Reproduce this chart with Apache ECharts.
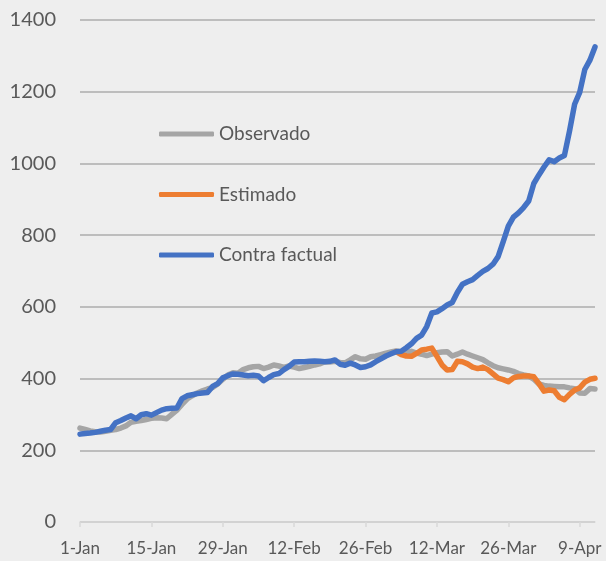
<!DOCTYPE html>
<html>
<head>
<meta charset="utf-8">
<script src="https://cdn.jsdelivr.net/npm/echarts@6/dist/echarts.min.js"></script>
<style>
  html, body { margin: 0; padding: 0; background: #EEEEEE; }
  #chart { width: 606px; height: 561px; }
</style>
</head>
<body>
<div id="chart"></div>
<script>
// daily values, 1-Jan .. 12-Apr
var observado = [
  262, 258, 254, 252, 251, 253, 256, 258, 262, 268,
  278, 281, 283, 286, 289, 291, 290, 288, 300, 312,
  328, 343, 352, 360, 366, 371, 375, 385, 398, 410,
  416, 415, 425, 430, 433, 434, 428, 432, 438, 435,
  431, 435, 432, 428, 431, 434, 438, 441, 447, 446,
  448, 445, 444, 452, 461, 455, 454, 461, 463, 467,
  471, 474, 477, 474, 472, 476, 471, 468, 464, 468,
  472, 474, 475, 463, 468, 474, 468, 463, 458, 453,
  444, 436, 430, 427, 424, 420, 414, 410, 407, 398,
  385, 381, 379, 378, 377, 377, 374, 372, 360, 359,
  372, 371
];

var estimado = [
  null, null, null, null, null, null, null, null, null, null,
  null, null, null, null, null, null, null, null, null, null,
  null, null, null, null, null, null, null, null, null, null,
  null, null, null, null, null, null, null, null, null, null,
  null, null, null, null, null, null, null, null, null, null,
  null, null, null, null, null, null, null, null, null, null,
  null, null, 475, 467, 463, 462, 470, 480, 482, 485,
  462, 438, 424, 425, 448, 447, 441, 432, 428, 432,
  425, 413, 401, 397, 391, 402, 406, 407, 407, 405,
  386, 365, 368, 366, 348, 341, 356, 368, 374, 390,
  398, 401
];

var contraFactual = [
  245, 247, 248, 250, 253, 256, 258, 277, 283, 290,
  296, 288, 299, 302, 298, 305, 312, 316, 317, 318,
  344, 352, 355, 358, 360, 361, 378, 386, 402, 408,
  413, 412, 410, 408, 409, 407, 394, 403, 411, 414,
  425, 434, 446, 447, 447, 448, 449, 448, 447, 448,
  452, 440, 437, 443, 438, 431, 433, 438, 447, 455,
  463, 469, 475, 476, 486, 497, 512, 521, 545, 583,
  586, 595, 605, 612, 640, 663, 670, 676, 688, 699,
  707, 719, 740, 782, 825, 850, 862, 877, 895, 944,
  968, 990, 1010, 1005, 1015, 1022, 1090, 1165, 1198, 1262,
  1288, 1325
];

var seriesNames = ['Observado', 'Estimado', 'Contra factual'];
var seriesColors = ['#A5A5A5', '#ED7D31', '#4472C4'];
var monthNames = ['Jan', 'Feb', 'Mar', 'Apr'];
var monthDays = [31, 28, 31, 30];

// category labels like "1-Jan"
var days = [];
var m = 0, d = 1;
for (var i = 0; i < observado.length; i++) {
  days.push(d + '-' + monthNames[m]);
  d++;
  if (d > monthDays[m]) { d = 1; m++; }
}

var font = 'Lato, "Open Sans", sans-serif';
var textColor = '#595959';

var chart = echarts.init(document.getElementById('chart'));

function lineSeries(k, values) {
  return {
    name: seriesNames[k], type: 'line', data: values, showSymbol: false,
    color: seriesColors[k],
    lineStyle: { width: 5.5, color: seriesColors[k], cap: 'round', join: 'round' }
  };
}

var option = {
  backgroundColor: '#EEEEEE',
  animation: false,
  grid: { left: 80, right: 11, top: 20, bottom: 39 },
  legend: {
    orient: 'vertical',
    left: 159,
    top: 124,
    padding: 0,
    itemWidth: 55,
    itemHeight: 5,
    itemGap: 40.5,
    icon: 'roundRect',
    data: seriesNames,
    textStyle: { fontFamily: font, fontSize: 19, color: textColor, lineHeight: 20 }
  },
  xAxis: {
    type: 'category',
    data: days,
    boundaryGap: false,
    axisLine: { lineStyle: { color: '#D9D9D9', width: 1.5 } },
    axisTick: { show: true, interval: 13, length: 5, lineStyle: { color: '#D9D9D9', width: 1.5 } },
    axisLabel: { interval: 13, margin: 18, fontFamily: font, fontSize: 17, color: textColor },
    splitLine: { show: false }
  },
  yAxis: {
    type: 'value',
    min: 0,
    max: 1400,
    interval: 200,
    axisLine: { show: false },
    axisTick: { show: false },
    axisLabel: {
      margin: 24, fontFamily: font, fontSize: 20, color: textColor,
      formatter: function (v) { return String(v); }
    },
    splitLine: { lineStyle: { color: '#ADADAD', width: 1.5 } }
  },
  series: [
    lineSeries(0, observado),
    lineSeries(1, estimado),
    lineSeries(2, contraFactual)
  ]
};

chart.setOption(option);
</script>
</body>
</html>
